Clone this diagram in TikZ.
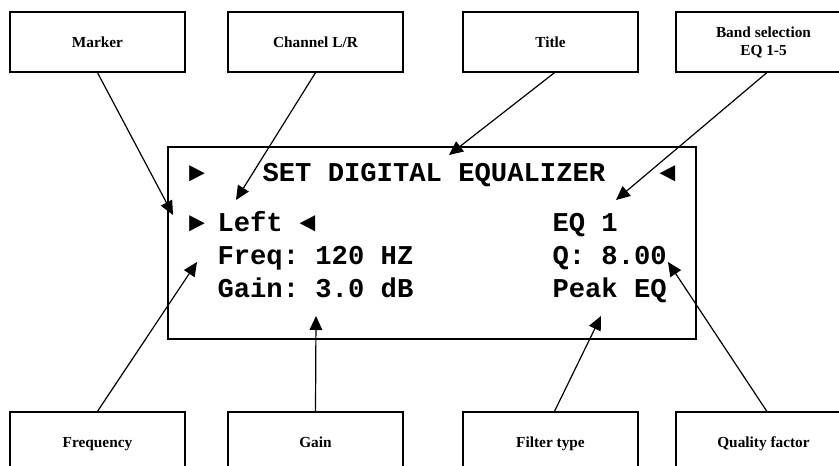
\documentclass[tikz,border=0pt]{standalone}
\usepackage{fontspec}
\setmainfont{Liberation Serif}
\setmonofont{Liberation Mono}
\usetikzlibrary{arrows.meta}

\tikzset{every picture/.style={line width=0.75pt}}
\tikzset{
  labelbox/.style={draw, line width=1pt, minimum width=131.25pt, minimum height=45pt,
    inner sep=0pt, align=center, font=\fontsize{11.5}{13.5}\selectfont\bfseries},
  oneline/.style={labelbox, text height=9.5pt, text depth=1pt},
  lcdtext/.style={anchor=base west, inner sep=0pt, font=\fontsize{20.4}{24}\selectfont\ttfamily\bfseries},
  pointer/.style={line width=0.9pt, -{Triangle[length=10.5pt,width=9.5pt]}}
}

\begin{document}
\begin{tikzpicture}[x=0.75pt,y=0.75pt,yscale=-1,xscale=1]
        \useasboundingbox (0,0) rectangle (839,466);
        %Shape: Rectangle [id:lcd] 
        \draw [line width=1pt] (168,147) rectangle (696,339);

        % Text Node
        \node [oneline] (marker) at (97.5,42) {Marker};
        % Text Node
        \node [oneline] (channel) at (315.5,42) {Channel L/R};
        % Text Node
        \node [oneline] (title) at (550.5,42) {Title};
        % Text Node
        \node [labelbox] (band) at (763.5,42) {Band selection\\EQ 1-5};
        % Text Node
        \node [oneline] (freq) at (97.5,442) {Frequency};
        % Text Node
        \node [oneline] (gain) at (315.5,442) {Gain};
        % Text Node
        \node [oneline] (filter) at (550.5,442) {Filter type};
        % Text Node
        \node [oneline] (quality) at (763.5,442) {Quality factor};

        % Text Node
        \node [lcdtext] (markA) at (188,182) {►};
        \node [lcdtext] (head) at (262,182) {SET DIGITAL EQUALIZER};
        \node [lcdtext] (markB) at (659,182) {◄};
        % Text Node
        \node [lcdtext] (markC) at (188,232) {►};
        \node [lcdtext] (chan) at (217,232) {Left};
        \node [lcdtext] (markD) at (299,232) {◄};
        \node [lcdtext] (eq) at (552,232) {EQ 1};
        % Text Node
        \node [lcdtext] (freqval) at (217,265) {Freq: 120 HZ};
        \node [lcdtext] (qval) at (552,265) {Q: 8.00};
        % Text Node
        \node [lcdtext] (gainval) at (217,298) {Gain: 3.0 dB};
        \node [lcdtext] (type) at (552,298) {Peak EQ};

        % tips
        \coordinate (tMarker) at (173,215);
        \coordinate (tChannel) at (236,200);
        \coordinate (tTitle) at (449,155);
        \coordinate (tBand) at (616,200);
        \coordinate (tFreq) at (197,262);
        \coordinate (tGain) at (316,316);
        \coordinate (tFilter) at (601,316);
        \coordinate (tQuality) at (668,262);

        %Straight Lines
        \draw [pointer] (marker.south) -- (tMarker);
        \draw [pointer] (channel.south) -- (tChannel);
        \draw [pointer] ([xshift=3pt]title.south) -- (tTitle);
        \draw [pointer] ([xshift=2.5pt]band.south) -- (tBand);
        \draw [pointer] (freq.north) -- (tFreq);
        \draw [pointer] (gain.north) -- (tGain);
        \draw [pointer] ([xshift=3pt]filter.north) -- (tFilter);
        \draw [pointer] ([xshift=2.5pt]quality.north) -- (tQuality);
\end{tikzpicture}
\end{document}
